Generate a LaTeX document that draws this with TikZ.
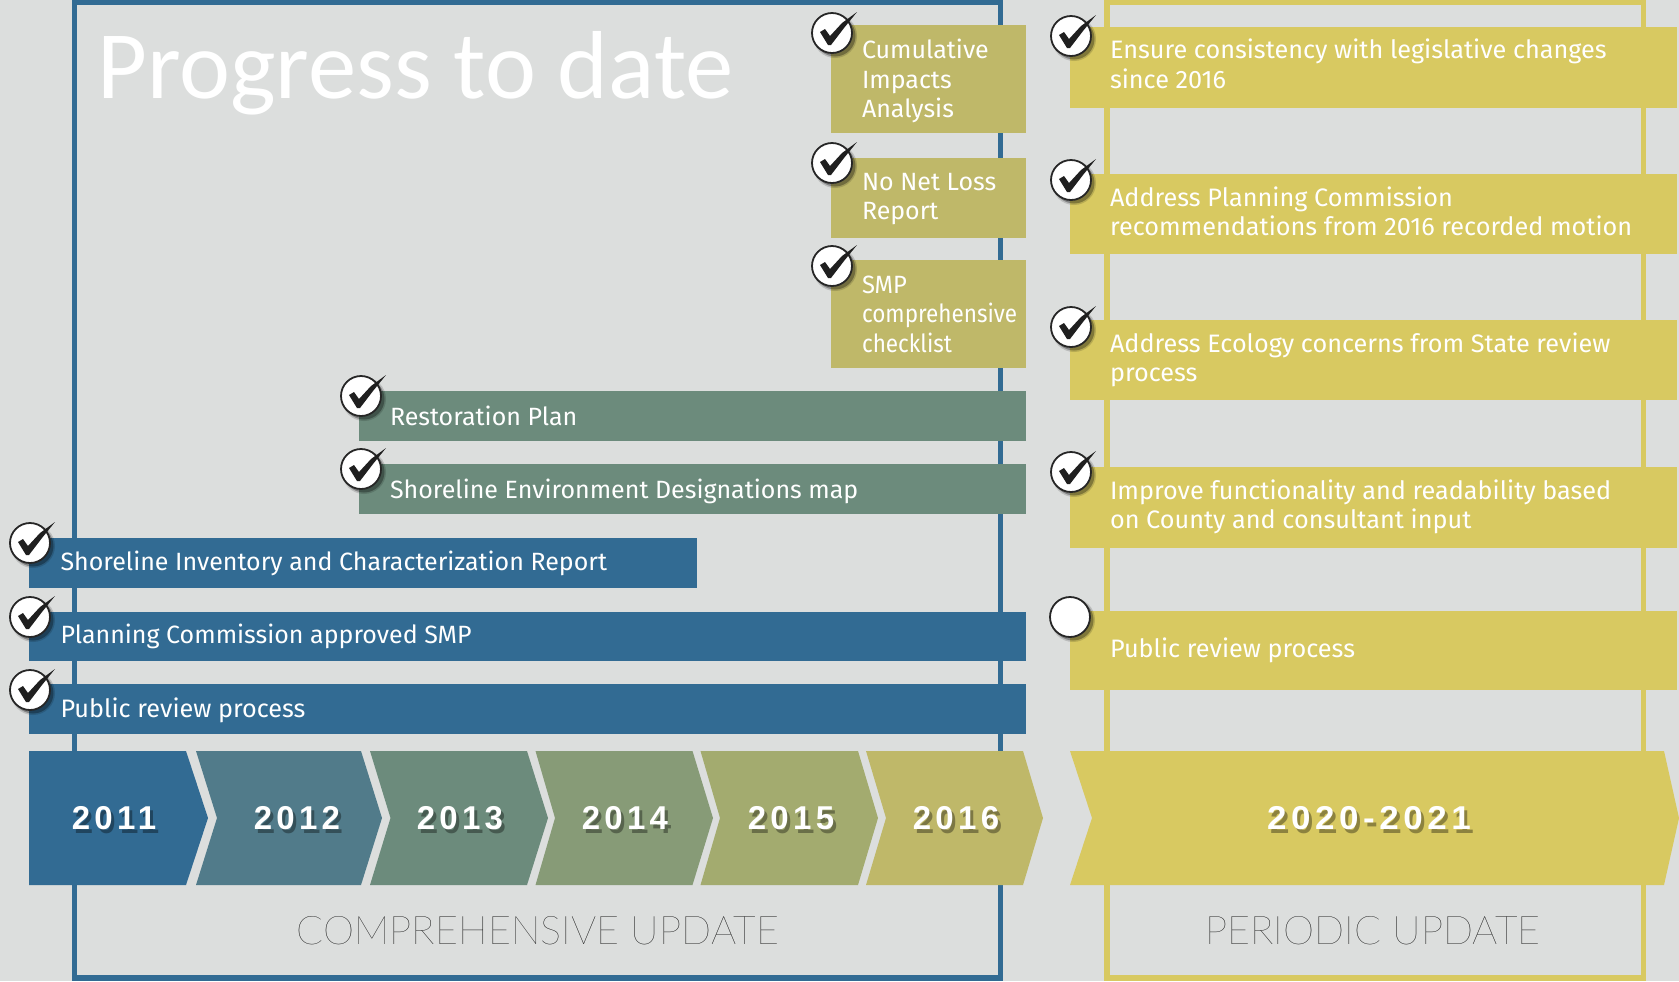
\documentclass[tikz,border=0pt]{standalone}
\usepackage{fontspec}
\usepackage{graphicx}
\setmainfont{Fira Sans}
\newfontfamily\titlefont{Carlito}
\newfontfamily\yearfont[LetterSpace=13]{Liberation Sans Bold}
\newfontfamily\thinfont{Lato Hairline}
\definecolor{bgc}{HTML}{DCDEDD}
\definecolor{bluec}{HTML}{326B93}
\definecolor{cA}{HTML}{517B8A}
\definecolor{greenc}{HTML}{6C8B7C}
\definecolor{cB}{HTML}{879B77}
\definecolor{cC}{HTML}{A3AB6F}
\definecolor{olivec}{HTML}{BFB869}
\definecolor{yellowc}{HTML}{D8C961}
\newcommand{\chev}[5]{% left, notch, topright, tip, colour
  \fill[#5] (#1,751) -- (#3,751) -- (#4,818) -- (#3,885) -- (#1,885) -- (#2,818) -- cycle;}
\newcommand{\yearlabel}[3]{% name, x, text
  \node[yeartxt,text=black,opacity=.35] (#1s) at (#2+3,829+4) {#3};
  \node[yeartxt] (#1) at (#2,829) {#3};}
\tikzset{
  x=0.5pt,y=-0.5pt,
  lbl/.style={anchor=base west,inner sep=0,outer sep=0,text=white,font=\fontsize{12.5}{14}\selectfont},
  rlbl/.style={lbl,font=\fontsize{12.62}{14}\selectfont},
  yeartxt/.style={anchor=base,inner sep=0,outer sep=0,text=white,font=\yearfont\fontsize{16.5}{18}\selectfont},
  updatetxt/.style={anchor=base,inner sep=0,outer sep=0,text=black,font=\thinfont\fontsize{19.8}{22}\selectfont},
  frameline/.style={line width=2.75pt},
  checkring/.pic={
    \fill[black,opacity=.15] (3,3) circle[radius=22];
    \fill[black,opacity=.3] (3,3) circle[radius=20.5];
    \fill[white,draw=black!85,line width=.9pt] (0,0) circle[radius=20];
  },
  checktick/.pic={
    \fill[black!88] (-12,-1) -- (-7,-4) -- (-2,3) -- (10,-10) -- (25,-21) -- (12,-5) -- (-1,12) -- (-4,12) -- cycle;
  }
}
\begin{document}
\begin{tikzpicture}
\useasboundingbox (0,0) rectangle (1679,981);
\fill[bgc] (0,0) rectangle (1679,981);
% frames
\draw[bluec,frameline] (74.5,2) rectangle (1000.5,978);
\draw[yellowc,frameline] (1107,2) rectangle (1643.5,978);
% title
\node[anchor=base west,inner sep=0,text=white,font=\titlefont\fontsize{48.3}{52}\selectfont] (title) at (97,98) {Progress to date};
% bars
\fill[olivec] (831,25) rectangle (1026,133);
\fill[olivec] (831,158) rectangle (1026,238);
\fill[olivec] (831,260) rectangle (1026,367.5);
\fill[greenc] (359,391) rectangle (1026,440.5);
\fill[greenc] (359,464) rectangle (1026,513.5);
\fill[bluec] (29,538) rectangle (697,588);
\fill[bluec] (29,612) rectangle (1026,661);
\fill[bluec] (29,684) rectangle (1026,734);
\fill[yellowc] (1070,27) rectangle (1677,108);
\fill[yellowc] (1070,174) rectangle (1677,254);
\fill[yellowc] (1070,319.5) rectangle (1677,400);
\fill[yellowc] (1070,467) rectangle (1677,547.5);
\fill[yellowc] (1070,610.5) rectangle (1677,690);
% chevrons
\chev{29}{29}{186}{208}{bluec}
\chev{196}{217}{361}{382}{cA}
\chev{370}{390.5}{527}{548}{greenc}
\chev{535.5}{555}{692.5}{713}{cB}
\chev{700.5}{720}{858}{878}{cC}
\chev{866}{886}{1023}{1043}{olivec}
\chev{1070}{1092}{1664}{1679}{yellowc}
\yearlabel{yA}{114}{2011}
\yearlabel{yB}{297}{2012}
\yearlabel{yC}{460}{2013}
\yearlabel{yD}{625}{2014}
\yearlabel{yE}{791}{2015}
\yearlabel{yF}{956}{2016}
\yearlabel{yG}{1369}{\scalebox{1.06}[1]{2020-2021}}
% labels
\node[lbl] (a1) at (862,58) {Cumulative};
\node[lbl] (a2) at (862,88) {Impacts};
\node[lbl] (a3) at (862,117) {Analysis};
\node[lbl] (b1) at (862,190) {No Net Loss};
\node[lbl] (b2) at (862,219) {Report};
\node[lbl] (c1) at (862,293) {\scalebox{.95}[1]{SMP}};
\node[lbl] (c2) at (862,322) {\scalebox{.9}[1]{comprehensive}};
\node[lbl] (c3) at (862,352) {\scalebox{.9}[1]{checklist}};
\node[lbl] (d) at (390,425) {Restoration Plan};
\node[lbl] (e) at (390,498) {Shoreline Environment Designations map};
\node[lbl] (f) at (60.5,570) {Shoreline Inventory and Characterization Report};
\node[lbl] (g) at (60.5,643) {Planning Commission approved SMP};
\node[rlbl] (h) at (60.5,717) {Public review process};
\node[rlbl] (r1a) at (1110,58) {Ensure consistency with legislative changes};
\node[rlbl] (r1b) at (1110,88) {since 2016};
\node[rlbl] (r2a) at (1110,206) {Address Planning Commission};
\node[rlbl] (r2b) at (1110,235) {recommendations from 2016 recorded motion};
\node[rlbl] (r3a) at (1110,352) {Address Ecology concerns from State review};
\node[rlbl] (r3b) at (1110,381) {process};
\node[rlbl] (r4a) at (1110,499) {Improve functionality and readability based};
\node[rlbl] (r4b) at (1110,528) {on County and consultant input};
\node[rlbl] (r5) at (1110,657) {Public review process};
\node[updatetxt] (cu) at (538,944) {COMPREHENSIVE UPDATE};
\node[updatetxt] (pu) at (1373,944) {PERIODIC UPDATE};
% check marks
\foreach \cx/\cy in {832/33,832/163,832/266,361/396,361/469,30/543,30/617,30/690,1071/36,1071/180,1071/327,1071/472}{
  \pic at (\cx,\cy) {checkring};
  \pic at (\cx,\cy) {checktick};
}
\pic at (1070,617) {checkring};
\end{tikzpicture}
\end{document}
